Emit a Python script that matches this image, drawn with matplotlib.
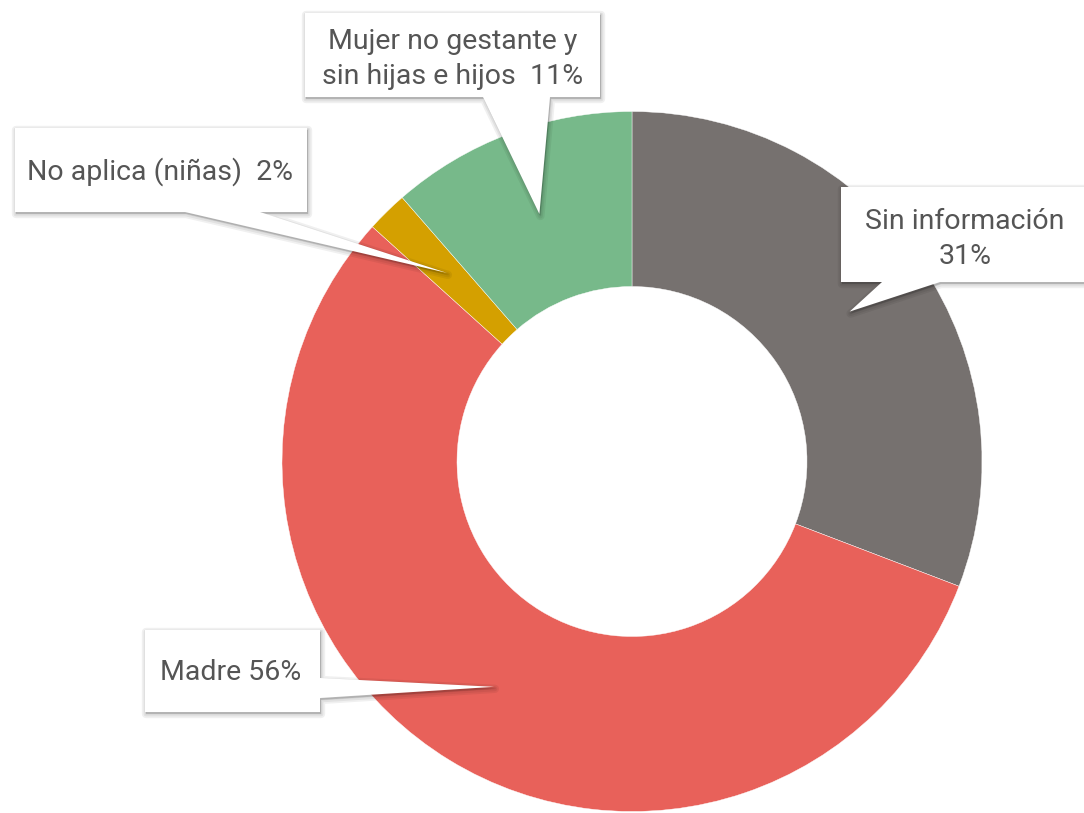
import numpy as np
import matplotlib.pyplot as plt
from matplotlib.patches import Polygon

# data
labels = ["Sin información", "Madre", "No aplica (niñas)", "Mujer no gestante y\nsin hijas e hijos"]
values = [30.8, 55.9, 1.9, 11.4]
colors = ["#76716F", "#E8615A", "#D4A000", "#77B98A"]
pct_text = ["Sin información\n31%", "Madre 56%", "No aplica (niñas)  2%",
            "Mujer no gestante y\nsin hijas e hijos  11%"]

W, H = 1084, 813
fig = plt.figure(figsize=(W / 100, H / 100), dpi=100)
ax = fig.add_axes([0, 0, 1, 1])

cx, cy = 632, H - 461.5
R = 350
ax.pie(values, colors=colors, startangle=90, counterclock=False,
       center=(cx, cy), radius=R,
       wedgeprops=dict(width=R * 0.5, edgecolor="white", linewidth=0.3))
ax.set_xlim(0, W)
ax.set_ylim(0, H)
ax.set_aspect("equal")
ax.axis("off")

# mid angles of each slice -> pointer tips
frac = np.array(values) / sum(values)
ends = 90 - np.cumsum(frac) * 360
starts = ends + frac * 360
mids = np.radians((starts + ends) / 2)
tip_r = R * 0.755
tips = [(cx + tip_r * np.cos(a), cy + tip_r * np.sin(a)) for a in mids]

# box layout in pixels (left, top, right, bottom), pointer base, text centre
boxes = [
    dict(box=(841, 187, 1100, 282), side="bottom", base=(882, 940), txt=(965, 239)),
    dict(box=(145, 630, 320, 712), side="right", base=(678, 698), txt=(231, 673)),
    dict(box=(15, 128, 307, 212), side="bottom", base=(185, 260), txt=(160, 172)),
    dict(box=(305, 13, 600, 97), side="bottom", base=(483, 550), txt=(453, 59)),
]


def callout_pts(b, tip):
    l, t, r, bt = b["box"]
    t, bt = H - t, H - bt
    b0, b1 = b["base"]
    if b["side"] == "bottom":
        return [(l, t), (r, t), (r, bt), (b1, bt), tip, (b0, bt), (l, bt)]
    b0, b1 = H - b0, H - b1
    return [(l, t), (r, t), (r, b0), tip, (r, b1), (r, bt), (l, bt)]


for b, tip, s in zip(boxes, tips, pct_text):
    pts = callout_pts(b, tip)
    # soft shadow
    for dx, dy, lw in [(1, -2, 6), (1, -2, 3.5), (1, -1.5, 1.5)]:
        sh = Polygon([(x + dx, y + dy) for x, y in pts], closed=True,
                     facecolor="#000000", edgecolor="#000000",
                     alpha=0.06, linewidth=lw, joinstyle="round", zorder=3)
        ax.add_patch(sh)
    ax.add_patch(Polygon(pts, closed=True, facecolor="white",
                         edgecolor="none", zorder=4))
    ax.text(b["txt"][0], H - b["txt"][1], s, ha="center", va="center",
            fontsize=20.5, color="#555555", family="Roboto",
            linespacing=1.35, zorder=5)

fig.savefig("out.png", dpi=100)
